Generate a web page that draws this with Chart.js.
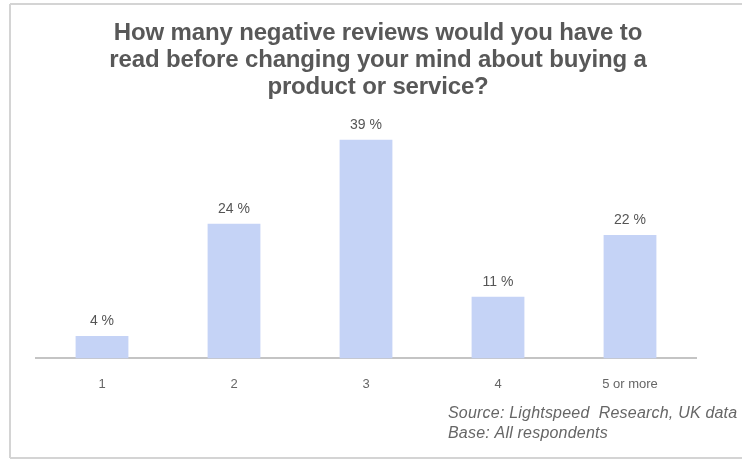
<!DOCTYPE html>
<html>
<head>
<meta charset="utf-8">
<script src="https://cdn.jsdelivr.net/npm/chart.js@4"></script>
<style>
  html, body { margin: 0; padding: 0; background: #fff; }
  #wrap { width: 742px; height: 462px; position: relative; }
</style>
</head>
<body>
<div id="wrap"><canvas id="reviewsChart"></canvas></div>
<script>
// values
const categories = ['1', '2', '3', '4', '5 or more'];
const shares = [4, 24, 39, 11, 22];
const titleLines = [
  'How many negative reviews would you have to',
  'read before changing your mind about buying a',
  'product or service?'
];
const sourceLines = [
  'Source: Lightspeed  Research, UK data',
  'Base: All respondents'
];

// frame, title and footnote drawn straight onto the canvas
const decorations = {
  id: 'decorations',
  beforeDraw(chart) {
    const ctx = chart.ctx;
    ctx.save();
    ctx.strokeStyle = '#d4d4d4';
    ctx.lineWidth = 2;
    ctx.beginPath();
    ctx.moveTo(10, 4); ctx.lineTo(742, 4);
    ctx.moveTo(10, 4); ctx.lineTo(10, 458);
    ctx.moveTo(10, 458); ctx.lineTo(742, 458);
    ctx.stroke();

    ctx.fillStyle = '#585858';
    ctx.font = 'bold 24px "Liberation Sans", Arial, sans-serif';
    ctx.letterSpacing = '-0.15px';
    ctx.textAlign = 'center';
    ctx.textBaseline = 'middle';
    titleLines.forEach((t, i) => ctx.fillText(t, 378, 33 + i * 27));

    ctx.letterSpacing = '0.2px';
    ctx.fillStyle = '#666';
    ctx.font = 'italic 16px "Liberation Sans", Arial, sans-serif';
    ctx.textAlign = 'left';
    sourceLines.forEach((t, i) => ctx.fillText(t, 448, 414 + i * 20));
    ctx.restore();
  },
  afterDatasetsDraw(chart) {
    const ctx = chart.ctx;
    const meta = chart.getDatasetMeta(0);
    ctx.save();
    ctx.fillStyle = '#555';
    ctx.font = '14px "Liberation Sans", Arial, sans-serif';
    ctx.textAlign = 'center';
    ctx.textBaseline = 'middle';
    meta.data.forEach((bar, i) => {
      ctx.fillText(shares[i] + ' %', bar.x, bar.y - 15);
    });
    ctx.restore();
  }
};

const data = {
  labels: categories,
  datasets: [{
    data: shares,
    backgroundColor: 'rgb(197, 211, 246)',
    borderWidth: 0,
    categoryPercentage: 0.4,
    barPercentage: 1.0
  }]
};

const config = {
  type: 'bar',
  data: data,
  options: {
    responsive: false,
    animation: false,
    layout: { padding: { top: 106, left: 36, right: 46, bottom: 52 } },
    plugins: {
      legend: { display: false },
      tooltip: { enabled: false }
    },
    scales: {
      x: {
        grid: { display: false, drawTicks: false },
        border: { display: true, color: '#c4c4c4', width: 2 },
        ticks: {
          color: '#666',
          padding: 18,
          font: { family: '"Liberation Sans", Arial, sans-serif', size: 13 }
        }
      },
      y: {
        display: false,
        min: 0,
        max: 45
      }
    }
  },
  plugins: [decorations]
};

const canvas = document.getElementById('reviewsChart');
canvas.width = 742;
canvas.height = 462;
const chart = new Chart(canvas, config);
</script>
</body>
</html>
